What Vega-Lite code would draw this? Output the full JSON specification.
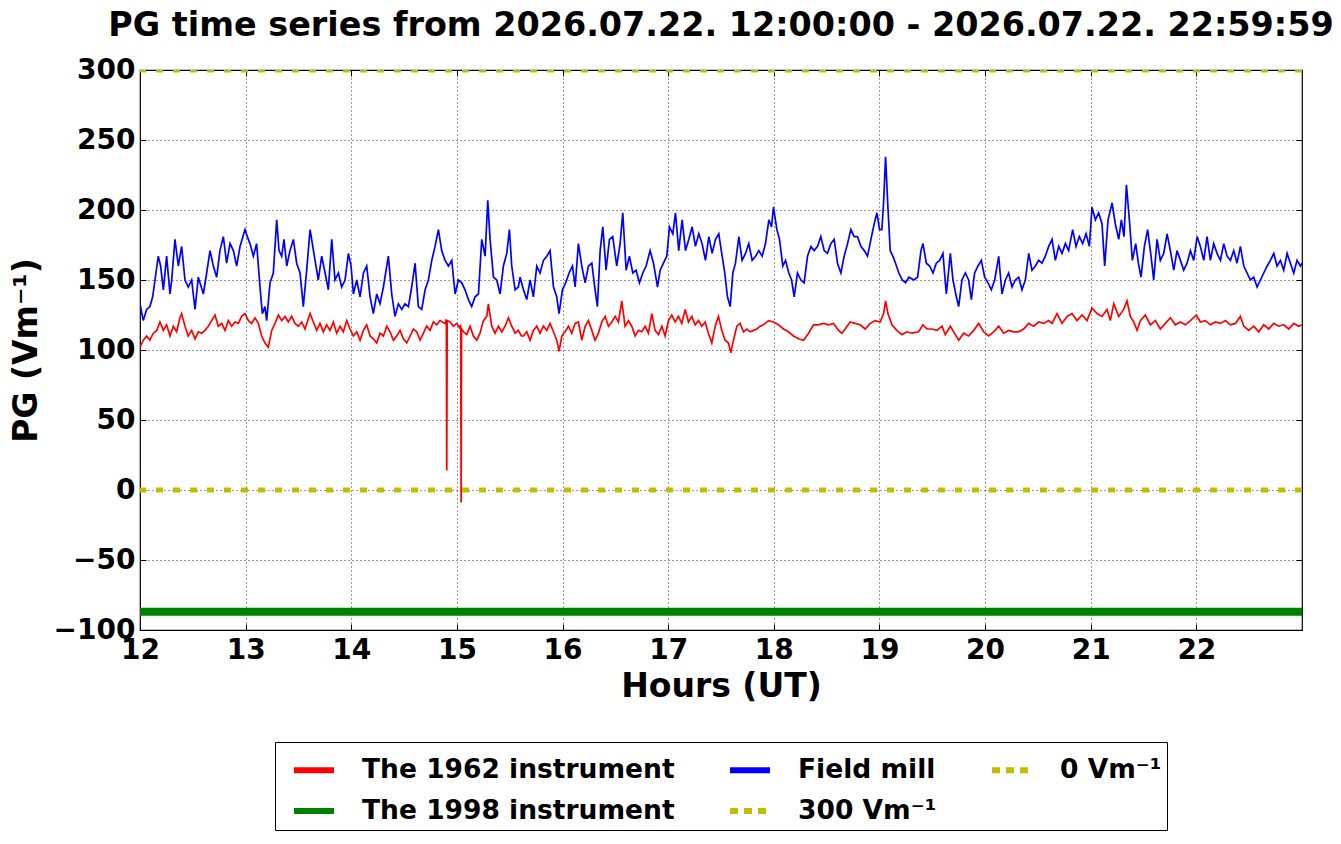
{
"$schema":"https://vega.github.io/schema/vega-lite/v6.json",
"width":1162,"height":560,
"autosize":{"type":"none"},
"padding":{"left":140,"top":70,"right":39,"bottom":214},
"background":"white",
"title":{"text":"PG time series from 2026.07.22. 12:00:00 - 2026.07.22. 22:59:59","font":"DejaVu Sans","fontSize":33.4,"fontWeight":"bold","color":"black","anchor":"middle","offset":13},
"config":{
"font":"DejaVu Sans",
"view":{"stroke":"black","strokeWidth":1.2},
"axis":{"labelFont":"DejaVu Sans","labelFontWeight":"bold","labelFontSize":28,"labelColor":"black","titleFont":"DejaVu Sans","titleFontWeight":"bold","titleFontSize":33,"titleColor":"black","grid":true,"gridColor":"black","gridDash":[1,3],"gridWidth":0.8,"gridOpacity":1,"domain":false,"tickColor":"black","tickSize":-6,"tickWidth":1,"labelPadding":11,"labelFlush":false,"labelOverlap":false}
},
"resolve":{"axis":{"x":"independent","y":"independent"}},
"datasets":{
"green":[{"t":12,"v":-87},{"t":14,"v":-87},{"t":16,"v":-87},{"t":18,"v":-87},{"t":20,"v":-87},{"t":22,"v":-87},{"t":23,"v":-87}],
"red":[
{"t":12.0,"v":102},{"t":12.031,"v":107},{"t":12.063,"v":110},{"t":12.094,"v":107},{"t":12.126,"v":112},{"t":12.158,"v":114},{"t":12.189,"v":120},{"t":12.221,"v":114},{"t":12.252,"v":118},{"t":12.284,"v":110},{"t":12.315,"v":117},{"t":12.347,"v":113},{"t":12.378,"v":123},{"t":12.394,"v":126},{"t":12.426,"v":117},{"t":12.457,"v":110},{"t":12.489,"v":114},{"t":12.521,"v":108},{"t":12.552,"v":113},{"t":12.584,"v":112},{"t":12.615,"v":114},{"t":12.647,"v":117},{"t":12.678,"v":121},{"t":12.71,"v":125},{"t":12.741,"v":117},{"t":12.773,"v":119},{"t":12.805,"v":114},{"t":12.836,"v":121},{"t":12.868,"v":117},{"t":12.899,"v":120},{"t":12.931,"v":119},{"t":12.962,"v":124},{"t":12.994,"v":126},{"t":13.026,"v":121},{"t":13.057,"v":119},{"t":13.089,"v":123},{"t":13.12,"v":119},{"t":13.152,"v":110},{"t":13.183,"v":105},{"t":13.215,"v":102},{"t":13.247,"v":114},{"t":13.278,"v":119},{"t":13.31,"v":125},{"t":13.341,"v":121},{"t":13.373,"v":124},{"t":13.404,"v":120},{"t":13.436,"v":124},{"t":13.467,"v":119},{"t":13.499,"v":117},{"t":13.531,"v":120},{"t":13.562,"v":115},{"t":13.61,"v":126},{"t":13.641,"v":120},{"t":13.673,"v":114},{"t":13.704,"v":119},{"t":13.736,"v":113},{"t":13.767,"v":118},{"t":13.799,"v":114},{"t":13.83,"v":120},{"t":13.862,"v":112},{"t":13.894,"v":117},{"t":13.925,"v":113},{"t":13.957,"v":121},{"t":13.988,"v":115},{"t":14.02,"v":110},{"t":14.052,"v":113},{"t":14.083,"v":107},{"t":14.115,"v":114},{"t":14.146,"v":118},{"t":14.178,"v":110},{"t":14.209,"v":108},{"t":14.241,"v":105},{"t":14.272,"v":112},{"t":14.304,"v":110},{"t":14.336,"v":117},{"t":14.367,"v":113},{"t":14.399,"v":107},{"t":14.43,"v":110},{"t":14.462,"v":114},{"t":14.493,"v":108},{"t":14.525,"v":105},{"t":14.557,"v":110},{"t":14.588,"v":115},{"t":14.62,"v":113},{"t":14.651,"v":107},{"t":14.683,"v":112},{"t":14.714,"v":117},{"t":14.746,"v":114},{"t":14.777,"v":120},{"t":14.809,"v":118},{"t":14.84,"v":121},{"t":14.888,"v":119},{"t":14.9,"v":122},{"t":14.904,"v":14},{"t":14.908,"v":121},{"t":14.935,"v":120},{"t":14.967,"v":117},{"t":14.998,"v":119},{"t":15.024,"v":116},{"t":15.036,"v":118},{"t":15.04,"v":-9},{"t":15.044,"v":115},{"t":15.062,"v":113},{"t":15.093,"v":111},{"t":15.125,"v":117},{"t":15.156,"v":110},{"t":15.188,"v":107},{"t":15.219,"v":112},{"t":15.251,"v":121},{"t":15.283,"v":124},{"t":15.298,"v":133},{"t":15.33,"v":117},{"t":15.361,"v":112},{"t":15.393,"v":117},{"t":15.425,"v":113},{"t":15.456,"v":117},{"t":15.488,"v":123},{"t":15.519,"v":117},{"t":15.551,"v":112},{"t":15.582,"v":114},
{"t":15.61,"v":110},{"t":15.63,"v":110},{"t":15.661,"v":113},{"t":15.693,"v":107},{"t":15.724,"v":114},{"t":15.756,"v":117},{"t":15.787,"v":112},{"t":15.819,"v":117},{"t":15.851,"v":114},{"t":15.882,"v":119},{"t":15.914,"v":113},{"t":15.945,"v":107},{"t":15.967,"v":99},{"t":15.993,"v":110},{"t":16.024,"v":113},{"t":16.056,"v":117},{"t":16.087,"v":112},{"t":16.119,"v":119},{"t":16.15,"v":120},{"t":16.182,"v":107},{"t":16.214,"v":117},{"t":16.245,"v":121},{"t":16.277,"v":114},{"t":16.308,"v":107},{"t":16.34,"v":112},{"t":16.371,"v":120},{"t":16.403,"v":124},{"t":16.435,"v":117},{"t":16.466,"v":120},{"t":16.498,"v":124},{"t":16.529,"v":120},{"t":16.561,"v":135},{"t":16.592,"v":117},{"t":16.624,"v":121},{"t":16.655,"v":117},{"t":16.687,"v":110},{"t":16.719,"v":114},{"t":16.75,"v":113},{"t":16.782,"v":117},{"t":16.813,"v":112},{"t":16.845,"v":126},{"t":16.876,"v":114},{"t":16.908,"v":111},{"t":16.94,"v":117},{"t":16.971,"v":110},{"t":17.003,"v":121},{"t":17.034,"v":125},{"t":17.066,"v":120},{"t":17.097,"v":124},{"t":17.129,"v":119},{"t":17.161,"v":129},{"t":17.192,"v":120},{"t":17.224,"v":124},{"t":17.255,"v":118},{"t":17.287,"v":121},{"t":17.318,"v":117},{"t":17.35,"v":120},{"t":17.381,"v":112},{"t":17.413,"v":105},{"t":17.445,"v":117},{"t":17.476,"v":124},{"t":17.508,"v":114},{"t":17.539,"v":107},{"t":17.571,"v":105},{"t":17.593,"v":98},{"t":17.618,"v":107},{"t":17.65,"v":117},{"t":17.681,"v":119},{"t":17.713,"v":113},{"t":17.745,"v":115},{"t":17.776,"v":113},{"t":17.808,"v":114},{"t":17.839,"v":115},{"t":17.871,"v":117},{"t":17.902,"v":118},{"t":17.95,"v":121},{"t":17.997,"v":120},{"t":18.044,"v":118},{"t":18.092,"v":115},{"t":18.139,"v":113},{"t":18.186,"v":110},{"t":18.234,"v":108},{"t":18.281,"v":107},{"t":18.329,"v":112},{"t":18.376,"v":118},{"t":18.423,"v":118},{"t":18.471,"v":119},{"t":18.518,"v":118},{"t":18.565,"v":119},{"t":18.613,"v":114},{"t":18.644,"v":112},{"t":18.676,"v":115},{"t":18.723,"v":120},{"t":18.77,"v":119},{"t":18.818,"v":118},{"t":18.865,"v":115},{"t":18.912,"v":119},{"t":18.96,"v":121},{"t":19.007,"v":120},{"t":19.039,"v":126},{"t":19.058,"v":135},{"t":19.08,"v":126},{"t":19.118,"v":118},{"t":19.165,"v":114},{"t":19.212,"v":111},{"t":19.26,"v":113},{"t":19.307,"v":112},
{"t":19.371,"v":113},{"t":19.412,"v":118},{"t":19.45,"v":115},{"t":19.497,"v":115},{"t":19.545,"v":114},{"t":19.592,"v":117},{"t":19.623,"v":111},{"t":19.671,"v":117},{"t":19.718,"v":111},{"t":19.75,"v":107},{"t":19.797,"v":112},{"t":19.844,"v":110},{"t":19.892,"v":114},{"t":19.939,"v":119},{"t":19.986,"v":113},{"t":20.034,"v":110},{"t":20.081,"v":113},{"t":20.129,"v":117},{"t":20.176,"v":112},{"t":20.223,"v":114},{"t":20.271,"v":113},{"t":20.318,"v":113},{"t":20.365,"v":115},{"t":20.413,"v":119},{"t":20.46,"v":117},{"t":20.507,"v":120},{"t":20.555,"v":119},{"t":20.602,"v":121},{"t":20.634,"v":119},{"t":20.681,"v":126},{"t":20.728,"v":119},{"t":20.776,"v":124},{"t":20.823,"v":126},{"t":20.87,"v":121},{"t":20.918,"v":125},{"t":20.965,"v":121},{"t":21.012,"v":130},{"t":21.06,"v":126},{"t":21.107,"v":124},{"t":21.154,"v":129},{"t":21.186,"v":121},{"t":21.218,"v":133},{"t":21.265,"v":124},{"t":21.312,"v":129},{"t":21.344,"v":135},{"t":21.375,"v":124},{"t":21.407,"v":120},{"t":21.439,"v":114},{"t":21.47,"v":121},{"t":21.517,"v":125},{"t":21.565,"v":118},{"t":21.612,"v":121},{"t":21.659,"v":115},{"t":21.707,"v":119},{"t":21.754,"v":123},{"t":21.801,"v":118},{"t":21.849,"v":120},{"t":21.896,"v":118},{"t":21.944,"v":121},{"t":22.0,"v":125},{"t":22.038,"v":120},{"t":22.085,"v":121},{"t":22.133,"v":118},{"t":22.18,"v":120},{"t":22.228,"v":119},{"t":22.275,"v":121},{"t":22.322,"v":118},{"t":22.37,"v":119},{"t":22.417,"v":124},{"t":22.449,"v":117},{"t":22.496,"v":114},{"t":22.543,"v":117},{"t":22.591,"v":113},{"t":22.638,"v":118},{"t":22.685,"v":115},{"t":22.733,"v":119},{"t":22.78,"v":117},{"t":22.827,"v":118},{"t":22.875,"v":115},{"t":22.922,"v":119},{"t":22.969,"v":117},{"t":23.0,"v":118}
],
"blue":[
{"t":12.0,"v":133},{"t":12.031,"v":121},{"t":12.063,"v":129},{"t":12.094,"v":131},{"t":12.12,"v":138},{"t":12.142,"v":150},{"t":12.173,"v":167},{"t":12.195,"v":160},{"t":12.221,"v":143},{"t":12.252,"v":167},{"t":12.284,"v":140},{"t":12.3,"v":150},{"t":12.331,"v":179},{"t":12.363,"v":160},{"t":12.394,"v":174},{"t":12.426,"v":150},{"t":12.457,"v":145},{"t":12.489,"v":150},{"t":12.521,"v":129},{"t":12.552,"v":152},{"t":12.6,"v":140},{"t":12.631,"v":155},{"t":12.663,"v":171},{"t":12.694,"v":160},{"t":12.726,"v":152},{"t":12.757,"v":171},{"t":12.789,"v":181},{"t":12.82,"v":162},{"t":12.852,"v":176},{"t":12.884,"v":171},{"t":12.915,"v":160},{"t":12.947,"v":174},{"t":12.994,"v":186},{"t":13.016,"v":181},{"t":13.041,"v":176},{"t":13.073,"v":167},{"t":13.104,"v":176},{"t":13.136,"v":145},{"t":13.158,"v":126},{"t":13.183,"v":131},{"t":13.199,"v":121},{"t":13.231,"v":148},{"t":13.262,"v":155},{"t":13.294,"v":193},{"t":13.316,"v":171},{"t":13.341,"v":167},{"t":13.363,"v":179},{"t":13.389,"v":160},{"t":13.42,"v":171},{"t":13.452,"v":179},{"t":13.483,"v":162},{"t":13.515,"v":155},{"t":13.546,"v":131},{"t":13.578,"v":157},{"t":13.61,"v":186},{"t":13.625,"v":179},{"t":13.657,"v":164},{"t":13.688,"v":150},{"t":13.72,"v":167},{"t":13.752,"v":155},{"t":13.783,"v":143},{"t":13.815,"v":179},{"t":13.846,"v":150},{"t":13.878,"v":155},{"t":13.909,"v":145},{"t":13.941,"v":150},{"t":13.973,"v":169},{"t":13.998,"v":160},{"t":14.02,"v":140},{"t":14.052,"v":150},{"t":14.083,"v":138},{"t":14.115,"v":155},{"t":14.146,"v":160},{"t":14.178,"v":138},{"t":14.209,"v":126},{"t":14.241,"v":140},{"t":14.272,"v":133},{"t":14.304,"v":145},{"t":14.351,"v":167},{"t":14.383,"v":140},{"t":14.414,"v":124},{"t":14.446,"v":133},{"t":14.478,"v":129},{"t":14.509,"v":133},{"t":14.541,"v":131},{"t":14.572,"v":145},{"t":14.604,"v":162},{"t":14.635,"v":131},{"t":14.667,"v":129},{"t":14.699,"v":143},{"t":14.73,"v":150},{"t":14.762,"v":164},{"t":14.793,"v":174},{"t":14.825,"v":186},{"t":14.856,"v":171},{"t":14.888,"v":164},{"t":14.92,"v":160},{"t":14.951,"v":164},{"t":14.983,"v":140},{"t":15.014,"v":150},{"t":15.046,"v":148},{"t":15.077,"v":143},{"t":15.109,"v":136},{"t":15.14,"v":131},{"t":15.172,"v":138},{"t":15.204,"v":140},{"t":15.235,"v":179},{"t":15.267,"v":167},{"t":15.292,"v":207},{"t":15.314,"v":179},{"t":15.346,"v":152},{"t":15.377,"v":150},{"t":15.409,"v":140},{"t":15.44,"v":160},{"t":15.472,"v":169},{"t":15.497,"v":186},{"t":15.519,"v":160},{"t":15.551,"v":143},{"t":15.582,"v":145},
{"t":15.598,"v":152},{"t":15.63,"v":143},{"t":15.661,"v":136},{"t":15.693,"v":150},{"t":15.724,"v":138},{"t":15.756,"v":160},{"t":15.787,"v":155},{"t":15.819,"v":164},{"t":15.851,"v":167},{"t":15.882,"v":171},{"t":15.914,"v":145},{"t":15.945,"v":138},{"t":15.967,"v":126},{"t":15.999,"v":143},{"t":16.03,"v":148},{"t":16.062,"v":155},{"t":16.094,"v":160},{"t":16.119,"v":145},{"t":16.15,"v":176},{"t":16.182,"v":160},{"t":16.214,"v":148},{"t":16.245,"v":160},{"t":16.277,"v":162},{"t":16.308,"v":143},{"t":16.33,"v":131},{"t":16.356,"v":171},{"t":16.381,"v":188},{"t":16.412,"v":157},{"t":16.444,"v":179},{"t":16.475,"v":181},{"t":16.513,"v":160},{"t":16.545,"v":176},{"t":16.57,"v":198},{"t":16.602,"v":157},{"t":16.633,"v":167},{"t":16.665,"v":155},{"t":16.696,"v":157},{"t":16.728,"v":148},{"t":16.76,"v":155},{"t":16.791,"v":160},{"t":16.829,"v":171},{"t":16.861,"v":162},{"t":16.899,"v":145},{"t":16.924,"v":157},{"t":16.955,"v":162},{"t":16.987,"v":167},{"t":17.012,"v":188},{"t":17.044,"v":183},{"t":17.069,"v":198},{"t":17.1,"v":171},{"t":17.132,"v":193},{"t":17.164,"v":171},{"t":17.195,"v":179},{"t":17.227,"v":188},{"t":17.258,"v":174},{"t":17.29,"v":183},{"t":17.321,"v":176},{"t":17.353,"v":164},{"t":17.385,"v":181},{"t":17.416,"v":169},{"t":17.448,"v":179},{"t":17.479,"v":183},{"t":17.511,"v":167},{"t":17.536,"v":155},{"t":17.561,"v":138},{"t":17.587,"v":131},{"t":17.612,"v":155},{"t":17.637,"v":162},{"t":17.669,"v":181},{"t":17.7,"v":164},{"t":17.732,"v":169},{"t":17.763,"v":176},{"t":17.795,"v":164},{"t":17.827,"v":167},{"t":17.858,"v":171},{"t":17.89,"v":167},{"t":17.921,"v":176},{"t":17.953,"v":193},{"t":17.978,"v":188},{"t":17.997,"v":202},{"t":18.029,"v":186},{"t":18.054,"v":179},{"t":18.085,"v":160},{"t":18.111,"v":164},{"t":18.142,"v":155},{"t":18.168,"v":150},{"t":18.193,"v":138},{"t":18.224,"v":155},{"t":18.256,"v":150},{"t":18.287,"v":148},{"t":18.319,"v":167},{"t":18.351,"v":174},{"t":18.382,"v":171},{"t":18.414,"v":174},{"t":18.445,"v":181},{"t":18.477,"v":171},{"t":18.508,"v":169},{"t":18.54,"v":176},{"t":18.571,"v":179},{"t":18.603,"v":162},{"t":18.635,"v":155},{"t":18.666,"v":167},{"t":18.698,"v":176},{"t":18.729,"v":186},{"t":18.761,"v":181},{"t":18.792,"v":181},{"t":18.824,"v":174},{"t":18.856,"v":171},{"t":18.887,"v":167},{"t":18.919,"v":179},{"t":18.95,"v":190},{"t":18.976,"v":198},{"t":19.001,"v":186},{"t":19.023,"v":186},{"t":19.039,"v":205},{"t":19.058,"v":238},{"t":19.08,"v":202},{"t":19.102,"v":171},{"t":19.127,"v":167},{"t":19.152,"v":162},{"t":19.184,"v":155},{"t":19.216,"v":150},{"t":19.247,"v":148},{"t":19.279,"v":152},
{"t":19.324,"v":150},{"t":19.361,"v":152},{"t":19.393,"v":171},{"t":19.412,"v":176},{"t":19.444,"v":162},{"t":19.475,"v":160},{"t":19.507,"v":155},{"t":19.538,"v":162},{"t":19.57,"v":164},{"t":19.601,"v":169},{"t":19.633,"v":140},{"t":19.671,"v":169},{"t":19.696,"v":150},{"t":19.728,"v":138},{"t":19.75,"v":131},{"t":19.781,"v":150},{"t":19.813,"v":155},{"t":19.844,"v":150},{"t":19.87,"v":136},{"t":19.901,"v":155},{"t":19.933,"v":160},{"t":19.964,"v":164},{"t":19.996,"v":152},{"t":20.028,"v":148},{"t":20.059,"v":143},{"t":20.091,"v":150},{"t":20.129,"v":167},{"t":20.16,"v":140},{"t":20.192,"v":150},{"t":20.223,"v":155},{"t":20.255,"v":145},{"t":20.286,"v":150},{"t":20.318,"v":152},{"t":20.349,"v":143},{"t":20.381,"v":150},{"t":20.413,"v":169},{"t":20.444,"v":157},{"t":20.476,"v":160},{"t":20.507,"v":164},{"t":20.539,"v":162},{"t":20.57,"v":167},{"t":20.602,"v":174},{"t":20.634,"v":179},{"t":20.665,"v":164},{"t":20.697,"v":174},{"t":20.728,"v":169},{"t":20.76,"v":176},{"t":20.791,"v":171},{"t":20.829,"v":186},{"t":20.861,"v":174},{"t":20.892,"v":181},{"t":20.924,"v":176},{"t":20.956,"v":183},{"t":20.987,"v":174},{"t":21.012,"v":202},{"t":21.044,"v":193},{"t":21.075,"v":198},{"t":21.107,"v":190},{"t":21.132,"v":160},{"t":21.164,"v":193},{"t":21.202,"v":205},{"t":21.233,"v":190},{"t":21.265,"v":179},{"t":21.29,"v":193},{"t":21.315,"v":181},{"t":21.338,"v":218},{"t":21.369,"v":190},{"t":21.394,"v":164},{"t":21.426,"v":176},{"t":21.451,"v":162},{"t":21.476,"v":152},{"t":21.508,"v":174},{"t":21.539,"v":186},{"t":21.571,"v":167},{"t":21.596,"v":150},{"t":21.628,"v":179},{"t":21.659,"v":164},{"t":21.691,"v":169},{"t":21.723,"v":183},{"t":21.754,"v":171},{"t":21.786,"v":157},{"t":21.817,"v":171},{"t":21.849,"v":164},{"t":21.88,"v":157},{"t":21.912,"v":162},{"t":21.944,"v":171},{"t":21.975,"v":164},{"t":22.007,"v":181},{"t":22.038,"v":174},{"t":22.07,"v":164},{"t":22.101,"v":181},{"t":22.133,"v":164},{"t":22.164,"v":176},{"t":22.196,"v":169},{"t":22.228,"v":164},{"t":22.259,"v":176},{"t":22.291,"v":167},{"t":22.322,"v":164},{"t":22.354,"v":171},{"t":22.385,"v":162},{"t":22.417,"v":174},{"t":22.449,"v":160},{"t":22.48,"v":155},{"t":22.512,"v":150},{"t":22.543,"v":152},{"t":22.575,"v":145},{"t":22.606,"v":150},{"t":22.638,"v":155},{"t":22.67,"v":160},{"t":22.701,"v":164},{"t":22.733,"v":169},{"t":22.764,"v":160},{"t":22.796,"v":164},{"t":22.827,"v":157},{"t":22.859,"v":169},{"t":22.89,"v":162},{"t":22.922,"v":155},{"t":22.953,"v":164},{"t":22.985,"v":160},{"t":23.0,"v":162}
],
"levels":[{"k":"300 Vm⁻¹","v":300},{"k":"0 Vm⁻¹","v":0}]
},
"layer":[
{"data":{"name":"green"},"mark":{"type":"line","strokeWidth":8,"clip":true},
"encoding":{
"x":{"field":"t","type":"quantitative","scale":{"domain":[12,23],"nice":false,"zero":false},"axis":{"orient":"bottom","values":[12,13,14,15,16,17,18,19,20,21,22],"format":"d","title":"Hours (UT)","titlePadding":6,"labelPadding":12}},
"y":{"field":"v","type":"quantitative","scale":{"domain":[-100,300],"nice":false,"zero":false},"axis":{"orient":"left","values":[-100,-50,0,50,100,150,200,250,300],"title":"PG (Vm⁻¹)","titlePadding":10}},
"color":{"datum":"The 1998 instrument","type":"nominal","title":null,"scale":{"domain":["The 1962 instrument","Field mill","0 Vm⁻¹","The 1998 instrument","300 Vm⁻¹"],"range":["#ff0000","#0000ff","#bfbf00","#008000","#bfbf00"]},
"legend":{"orient":"none","legendX":135,"legendY":672,"columns":3,"direction":"horizontal","title":null,"symbolType":"stroke","symbolSize":1600,"symbolStrokeWidth":6,"labelFont":"DejaVu Sans","labelFontSize":26.5,"labelFontWeight":"bold","labelColor":"black","labelOffset":25,"labelLimit":500,"columnPadding":41,"rowPadding":4,"padding":5,"symbolOffset":11,"strokeColor":"black","fillColor":"white",
"encode":{"symbols":{"update":{"strokeWidth":{"value":6},"strokeDash":{"signal":"indexof(datum.label,'Vm')>=0 ? [8,6] : [1,0]"}}}}}}
}},
{"data":{"name":"red"},"mark":{"type":"line","strokeWidth":1.7,"clip":true},
"encoding":{"x":{"field":"t","type":"quantitative","axis":{"orient":"top","labels":false,"title":null,"grid":false,"values":[12,13,14,15,16,17,18,19,20,21,22]}},"y":{"field":"v","type":"quantitative","axis":{"orient":"right","labels":false,"title":null,"grid":false,"values":[-100,-50,0,50,100,150,200,250,300]}},"color":{"datum":"The 1962 instrument","type":"nominal","title":null}}},
{"data":{"name":"blue"},"mark":{"type":"line","strokeWidth":1.7,"clip":true},
"encoding":{"x":{"field":"t","type":"quantitative","axis":null},"y":{"field":"v","type":"quantitative","axis":null},"color":{"datum":"Field mill","type":"nominal","title":null}}},
{"data":{"name":"levels"},"mark":{"type":"rule","strokeWidth":5,"strokeDash":[7,10],"clip":true},
"encoding":{"y":{"field":"v","type":"quantitative","axis":null},"color":{"field":"k","type":"nominal","title":null}}}
]
}
